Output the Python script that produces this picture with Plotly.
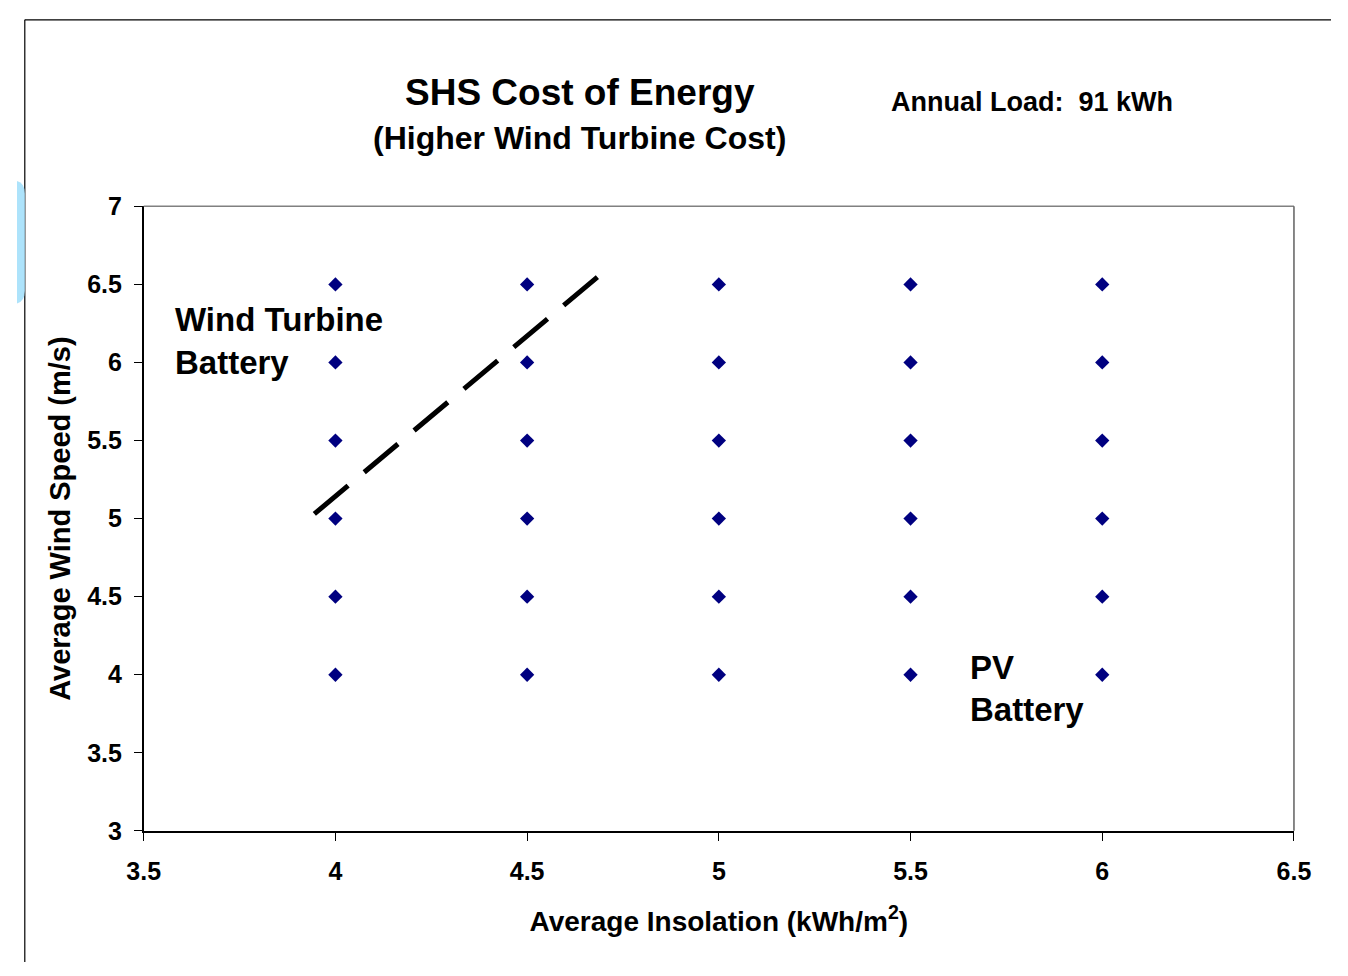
import plotly.graph_objects as go

W, H = 1348, 976

insolation = [4.0, 4.5, 5.0, 5.5, 6.0]
wind_speed = [4.0, 4.5, 5.0, 5.5, 6.0, 6.5]
boundary_x = [3.945, 4.69]
boundary_y = [5.03, 6.56]
x_ticks = [3.5, 4, 4.5, 5, 5.5, 6, 6.5]
x_tick_labels = ["3.5", "4", "4.5", "5", "5.5", "6", "6.5"]
y_ticks = [3, 3.5, 4, 4.5, 5, 5.5, 6, 6.5, 7]
y_tick_labels = ["3", "3.5", "4", "4.5", "5", "5.5", "6", "6.5", "7"]

px_x = []
px_y = []
for xi in insolation:
    for yi in wind_speed:
        px_x.append(xi)
        px_y.append(yi)

FONT = "Liberation Sans, Arial, sans-serif"

def pxx(v):
    return v / W

def pxy(v):
    return 1 - v / H

fig = go.Figure()
fig.add_trace(go.Scatter(
    x=px_x, y=px_y, mode="markers",
    marker=dict(symbol="diamond", size=11, color="#000080"),
    showlegend=False, hoverinfo="x+y"))
fig.add_trace(go.Scatter(
    x=boundary_x, y=boundary_y, mode="lines",
    line=dict(color="black", width=5, dash="44px,21px"),
    showlegend=False, hoverinfo="skip"))

fig.update_layout(
    width=W, height=H,
    margin=dict(l=0, r=0, t=0, b=0),
    paper_bgcolor="white", plot_bgcolor="white",
    font=dict(family=FONT, color="black"),
    xaxis=dict(
        domain=[pxx(130), pxx(1310)], range=[3.5, 6.5],
        tickmode="array", tickvals=x_ticks, ticktext=x_tick_labels,
        ticks="outside", ticklen=8, tickcolor="black", tickwidth=1,
        showline=True, linecolor="black", linewidth=1.5,
        showgrid=False, zeroline=False,
        tickfont=dict(size=25, family=FONT, color="black", weight="bold"),
        ticklabelstandoff=9,
        title=dict(text="<b>Average Insolation (kWh/m<sup>2</sup>)</b>",
                   font=dict(size=28, family=FONT), standoff=28),
    ),
    yaxis=dict(
        domain=[pxy(841), pxy(198)], range=[3, 7],
        tickmode="array", tickvals=y_ticks, ticktext=y_tick_labels,
        ticks="outside", ticklen=8, tickcolor="black", tickwidth=1,
        showline=True, linecolor="black", linewidth=1.5,
        showgrid=False, zeroline=False,
        tickfont=dict(size=25, family=FONT, color="black", weight="bold"),
        ticklabelstandoff=7,
        title=dict(text="<b>Average Wind Speed (m/s)</b>",
                   font=dict(size=29, family=FONT), standoff=8),
    ),
    shapes=[
        # outer frame (left and top edges; others lie beyond the page)
        dict(type="line", xref="paper", yref="paper",
             x0=pxx(8), x1=pxx(8), y0=0, y1=pxy(6),
             line=dict(color="black", width=1.2), layer="below"),
        dict(type="line", xref="paper", yref="paper",
             x0=pxx(8), x1=1, y0=pxy(6), y1=pxy(6),
             line=dict(color="black", width=1.2), layer="below"),
        dict(type="path", xref="paper", yref="paper",
             path=(f"M 0 {pxy(172)} Q {pxx(8)} {pxy(174)} {pxx(8)} {pxy(185)} "
                   f"L {pxx(8)} {pxy(285)} Q {pxx(8)} {pxy(296)} 0 {pxy(298)} Z"),
             fillcolor="#ade3fb", line=dict(width=0), layer="below"),
        dict(type="line", xref="paper", yref="paper",
             x0=pxx(130), x1=pxx(1310), y0=pxy(198), y1=pxy(198),
             line=dict(color="#808080", width=1.5)),
        dict(type="line", xref="paper", yref="paper",
             x0=pxx(1310), x1=pxx(1310), y0=pxy(198), y1=pxy(841),
             line=dict(color="#606060", width=1.5)),
    ],
    annotations=[
        dict(text="<b>SHS Cost of Energy</b>", xref="paper", yref="paper",
             x=pxx(578), y=pxy(81), showarrow=False,
             font=dict(size=37, family=FONT), xanchor="center", yanchor="middle"),
        dict(text="<b>(Higher Wind Turbine Cost)</b>", xref="paper", yref="paper",
             x=pxx(577), y=pxy(128), showarrow=False,
             font=dict(size=32, family=FONT), xanchor="center", yanchor="middle"),
        dict(text="<b>Annual Load:  91 kWh</b>", xref="paper", yref="paper",
             x=pxx(1041), y=pxy(91), showarrow=False,
             font=dict(size=27, family=FONT), xanchor="center", yanchor="middle"),
        dict(text="<b>Wind Turbine</b>", xref="paper", yref="paper",
             x=pxx(160), y=pxy(315), showarrow=False,
             font=dict(size=33, family=FONT), xanchor="left", yanchor="middle"),
        dict(text="<b>Battery</b>", xref="paper", yref="paper",
             x=pxx(160), y=pxy(359), showarrow=False,
             font=dict(size=33, family=FONT), xanchor="left", yanchor="middle"),
        dict(text="<b>PV</b>", xref="paper", yref="paper",
             x=pxx(976), y=pxy(673), showarrow=False,
             font=dict(size=33, family=FONT), xanchor="left", yanchor="middle"),
        dict(text="<b>Battery</b>", xref="paper", yref="paper",
             x=pxx(976), y=pxy(716), showarrow=False,
             font=dict(size=33, family=FONT), xanchor="left", yanchor="middle"),
    ],
)

fig.write_html(
    "out.html",
    config={"displayModeBar": False},
    post_script="document.body.style.margin='0';document.body.style.overflow='hidden';",
)
